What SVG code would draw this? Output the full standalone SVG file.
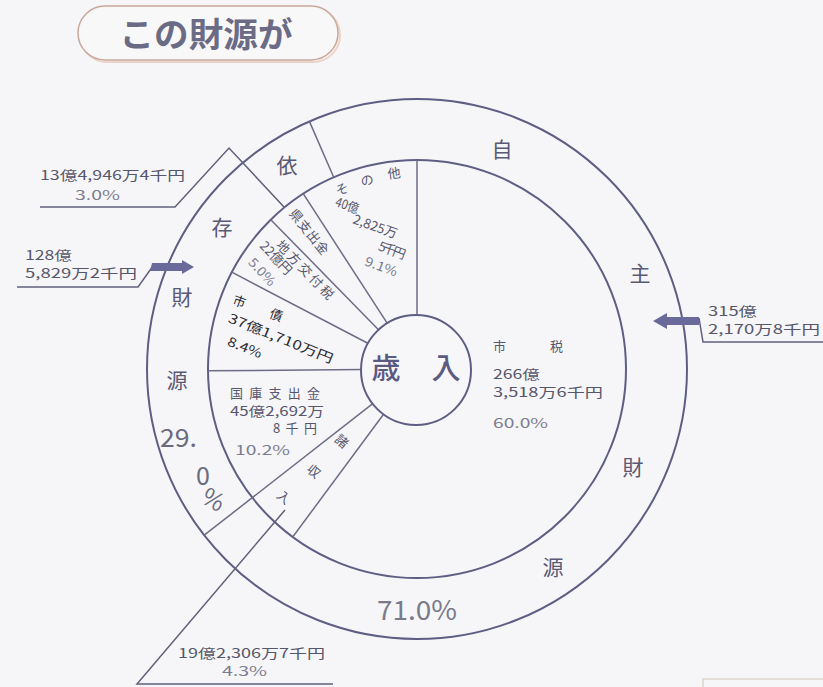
<svg xmlns="http://www.w3.org/2000/svg" width="823" height="687" viewBox="0 0 823 687">
<style>
text{font-family:"Noto Sans CJK JP","Noto Sans",sans-serif;}
.c{fill:none;stroke:#5e5e84;stroke-width:2}
.r{stroke:#6c6c88;stroke-width:1.5;fill:none}
.t{fill:#56566c;font-size:13px}
.p{fill:#7c7c8e;font-size:13px}
.k{fill:#2a2a32;font-size:13px}
.ring{fill:#5a5a74;font-size:21px;text-anchor:middle}
.m{text-anchor:middle}
.lead{fill:none;stroke:#60607c;stroke-width:1.5}
.arrow{fill:#6a6a9a}
</style>
<rect width="823" height="687" fill="#f6f6f8"/>

<g id="title">
<rect x="80" y="8" width="260" height="54" rx="27" fill="none" stroke="#ecd3c8" stroke-width="2"/>
<rect x="78" y="6" width="260" height="54" rx="27" fill="#f9f8f8" stroke="#c9a89a" stroke-width="1.5"/>
<text x="206" y="47" class="m" font-size="34" font-weight="bold" fill="#6b6b86" textLength="173" lengthAdjust="spacingAndGlyphs">この財源が</text>
</g>

<g id="rings">
<circle class="c" cx="417" cy="369" r="270"/>
<circle class="c" cx="417" cy="369" r="209"/>
</g>

<g id="connectors">
<line class="r" x1="417" y1="314" x2="417" y2="160"/>
<line class="r" x1="384.3" y1="413.2" x2="292.7" y2="537"/>
<line class="r" x1="373.7" y1="402.9" x2="204.2" y2="535.2"/>
<line class="r" x1="362" y1="369.5" x2="208" y2="370.8"/>
<line class="r" x1="368.3" y1="343.5" x2="231.8" y2="272.2" stroke="#3a3a48"/>
<line class="r" x1="378.5" y1="329.7" x2="270.8" y2="219.7"/>
<line class="r" x1="387" y1="322.9" x2="303.2" y2="193.7"/>
<line class="r" x1="333.7" y1="177.3" x2="309.4" y2="121.4"/>
<polyline class="lead" points="40,207 175,207 229,148 284,207"/>
<polyline class="lead" points="17,287 138,287 153,266"/>
<polyline class="lead" points="285,510 137,684 333,684"/>
<polyline class="lead" points="699,318 703,342 823,342"/>
<polygon class="arrow" points="152,263 182,263 182,260 194,267 182,274 182,271 150,271"/>
<polygon class="arrow" points="653,321 667,313 667,317 699,317 699,325 667,325 667,329"/>
<polyline points="703,687 703,679 823,679" fill="none" stroke="#ddd5cd" stroke-width="1.5"/>
</g>

<g id="center">
<circle cx="416" cy="370" r="55" fill="#f7f7f9" stroke="#5e5e84" stroke-width="2"/>
<text x="386" y="379" class="m" font-size="29" font-weight="500" fill="#5a5a82">歳</text>
<text x="446" y="379" class="m" font-size="29" font-weight="500" fill="#5a5a82">入</text>
</g>

<g id="node-shizei">
<text x="493" y="351" class="t" font-size="14" textLength="70" lengthAdjust="spacing">市　　　税</text>
<text x="493" y="379" class="t" font-size="14" textLength="47" lengthAdjust="spacingAndGlyphs">266億</text>
<text x="493" y="397" class="t" font-size="14" textLength="110" lengthAdjust="spacingAndGlyphs">3,518万6千円</text>
<text x="493" y="428" class="p" font-size="15" textLength="55" lengthAdjust="spacingAndGlyphs">60.0%</text>
</g>

<g id="node-shoshunyu">
<text class="t m" font-size="14" transform="translate(342,441) rotate(40)" y="5">諸</text>
<text class="t m" font-size="14" transform="translate(314,471) rotate(40)" y="5">収</text>
<text class="t m" font-size="14" transform="translate(284,497) rotate(40)" y="5">入</text>
</g>

<g id="node-kokko">
<text x="230" y="398" class="t" font-size="12" textLength="90" lengthAdjust="spacing">国庫支出金</text>
<text x="230" y="416" class="t" font-size="12.5" textLength="94" lengthAdjust="spacingAndGlyphs">45億2,692万</text>
<text x="273" y="433" class="t" font-size="12.5" textLength="44" lengthAdjust="spacing">8千円</text>
<text x="235" y="455" class="p" font-size="14" textLength="55" lengthAdjust="spacingAndGlyphs">10.2%</text>
</g>

<g id="node-shisai">
<text class="k m" font-size="14" transform="translate(258,308) rotate(20)" y="5" textLength="52" lengthAdjust="spacing">市　　債</text>
<text class="k m" font-size="14" transform="translate(281,338) rotate(22)" y="5" textLength="112" lengthAdjust="spacingAndGlyphs">37億1,710万円</text>
<text class="k m" font-size="14" transform="translate(245,347) rotate(22)" y="5" textLength="36" lengthAdjust="spacingAndGlyphs">8.4%</text>
</g>

<g id="node-chihou">
<text class="t m" transform="translate(305,270) rotate(46)" y="4.5" textLength="76" lengthAdjust="spacing">地方交付税</text>
<text class="t m" transform="translate(276,258) rotate(47)" y="4.5" textLength="40" lengthAdjust="spacingAndGlyphs">22億円</text>
<text class="p m" transform="translate(262,272) rotate(47)" y="4.5" textLength="33" lengthAdjust="spacingAndGlyphs">5.0%</text>
</g>

<g id="node-ken">
<text class="t m" transform="translate(309,232) rotate(51)" y="4.5" textLength="54" lengthAdjust="spacing">県支出金</text>
</g>

<g id="node-sonota">
<text class="t m" font-size="14" transform="translate(342,189) rotate(-22)" y="5">そ</text>
<text class="t m" font-size="14" transform="translate(367,180) rotate(-15)" y="5">の</text>
<text class="t m" font-size="14" transform="translate(394,173) rotate(-7)" y="5">他</text>
<text class="t m" font-size="12" transform="translate(347,206) rotate(20)" y="4" textLength="24" lengthAdjust="spacingAndGlyphs">40億</text>
<text class="t m" font-size="12" transform="translate(375,227) rotate(20)" y="4" textLength="46" lengthAdjust="spacingAndGlyphs">2,825万</text>
<text class="t m" font-size="12" transform="translate(392,251) rotate(20)" y="4" textLength="28" lengthAdjust="spacing">5千円</text>
<text class="p m" font-size="12" transform="translate(381,267) rotate(20)" y="4" textLength="34" lengthAdjust="spacingAndGlyphs">9.1%</text>
</g>

<g id="node-jishu">
<text class="ring" x="502" y="157">自</text>
<text class="ring" x="640" y="281">主</text>
<text class="ring" x="633" y="475">財</text>
<text class="ring" x="553" y="575">源</text>
<text class="m" x="417" y="620" font-size="27" fill="#7a7a8a" textLength="80" lengthAdjust="spacingAndGlyphs">71.0%</text>
</g>

<g id="node-izon">
<text class="ring" x="287" y="173">依</text>
<text class="ring" x="222" y="235">存</text>
<text class="ring" x="182" y="305">財</text>
<text class="ring" x="177" y="388">源</text>
<text x="160" y="447" font-size="25" fill="#6a6a7e" textLength="37" lengthAdjust="spacingAndGlyphs">29.</text>
<text class="m" x="203" y="485" font-size="25" fill="#6a6a7e">0</text>
<text class="m" transform="translate(213,500) rotate(30)" y="8" font-size="24" fill="#6a6a7e">%</text>
</g>

<g id="labels">
<text x="40" y="180" class="t" font-size="14" fill="#3e3e4e" textLength="145" lengthAdjust="spacingAndGlyphs">13億4,946万4千円</text>
<text x="75" y="200" class="p" font-size="14" textLength="45" lengthAdjust="spacingAndGlyphs">3.0%</text>
<text x="25" y="260" class="t" font-size="13" fill="#6a6a80" textLength="47" lengthAdjust="spacingAndGlyphs">128億</text>
<text x="25" y="278" class="t" font-size="13" fill="#6a6a80" textLength="112" lengthAdjust="spacingAndGlyphs">5,829万2千円</text>
<text x="708" y="316" class="t" font-size="14" fill="#5a5a78" textLength="49" lengthAdjust="spacingAndGlyphs">315億</text>
<text x="708" y="334" class="t" font-size="14" fill="#5a5a78" textLength="112" lengthAdjust="spacingAndGlyphs">2,170万8千円</text>
<text x="178" y="658" class="t" font-size="14" fill="#6a6a7c" textLength="147" lengthAdjust="spacingAndGlyphs">19億2,306万7千円</text>
<text x="222" y="676" class="p" font-size="14" textLength="45" lengthAdjust="spacingAndGlyphs">4.3%</text>
</g>
</svg>
